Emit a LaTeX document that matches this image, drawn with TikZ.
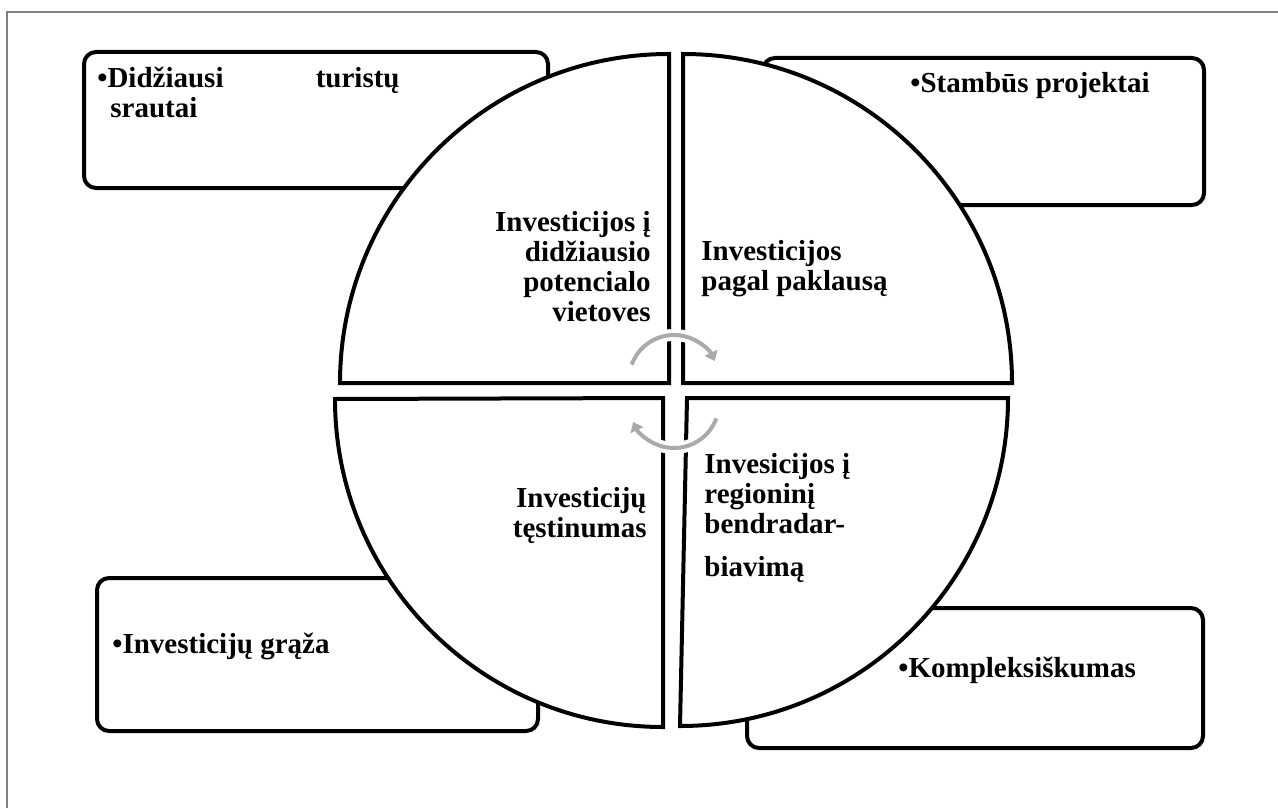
\documentclass[tikz,border=0pt]{standalone}
\usepackage{fontspec}
\setmainfont{Liberation Serif}
\usetikzlibrary{arrows.meta}
\tikzset{
  outer/.style={draw={rgb,255:red,128;green,128;blue,128}, line width=0.6pt},
  bbox/.style={draw=black, fill=white, line width=2pt, rounded corners=6pt},
  quad/.style={draw=black, fill=white, line width=2pt},
  cyc/.style={draw={rgb,255:red,170;green,170;blue,170}, line width=2pt,
    -{Triangle[length=4.5pt,width=7pt]},
    preaction={draw=white, line width=6pt, -}},
  txt/.style={font=\fontsize{14.5pt}{15pt}\selectfont\bfseries, inner sep=0pt},
}
\begin{document}
\begin{tikzpicture}[x=0.5pt,y=0.5pt]
\useasboundingbox (0,0) rectangle (1278,-808);
\draw[outer] (7,-808) -- (7,-12) -- (1278,-12);
% outer boxes
\draw[bbox] (84,-52) rectangle (548,-188);
\draw[bbox] (763,-58) rectangle (1204,-205);
\draw[bbox] (97,-578) rectangle (538,-731);
\draw[bbox] (747,-608) rectangle (1203,-748);
% quadrants
\draw[quad] (669,-383) -- (340,-383) arc[start angle=180,end angle=90,radius=329] -- cycle;
\draw[quad] (683,-383) -- (683,-54) arc[start angle=90,end angle=0,radius=329] -- cycle;
\draw[quad] (663,-398) -- (663,-727) arc[start angle=270,end angle=180,radius=328] -- cycle;
\draw[quad] (687,-398) -- (1008,-398) arc[start angle=0,end angle=-90,radius=328] -- cycle;
% box texts
\node[txt, anchor=base west] (b1a) at (97,-88) {•Didžiausi};
\node[txt, anchor=base east] (b1b) at (400,-88) {turistų};
\node[txt, anchor=base west] (b1c) at (110,-118) {srautai};
\node[txt, anchor=base west] (b2) at (910,-93) {•Stambūs projektai};
\node[txt, anchor=base west] (b3) at (112,-653) {•Investicijų grąža};
\node[txt, anchor=base west] (b4) at (898,-677) {•Kompleksiškumas};
% quadrant texts
\node[txt, anchor=base east] (q1a) at (651,-231) {Investicijos į};
\node[txt, anchor=base east] (q1b) at (651,-261) {didžiausio};
\node[txt, anchor=base east] (q1c) at (651,-291) {potencialo};
\node[txt, anchor=base east] (q1d) at (651,-321) {vietoves};
\node[txt, anchor=base west] (q2a) at (701,-260) {Investicijos};
\node[txt, anchor=base west] (q2b) at (701,-290) {pagal paklausą};
\node[txt, anchor=base east] (q3a) at (647,-507) {Investicijų};
\node[txt, anchor=base east] (q3b) at (647,-537) {tęstinumas};
\node[txt, anchor=base west] (q4a) at (704,-473) {Invesicijos į};
\node[txt, anchor=base west] (q4b) at (704,-503) {regioninį};
\node[txt, anchor=base west] (q4c) at (704,-533) {bendradar-};
\node[txt, anchor=base west] (q4d) at (704,-576) {biavimą};
% cycle arrows
\draw[cyc] (674,-380) ++(160:45) arc[start angle=160,end angle=25,radius=45];
\draw[cyc] (674,-403) ++(-20:45) arc[start angle=-20,end angle=-155,radius=45];
\end{tikzpicture}
\end{document}
